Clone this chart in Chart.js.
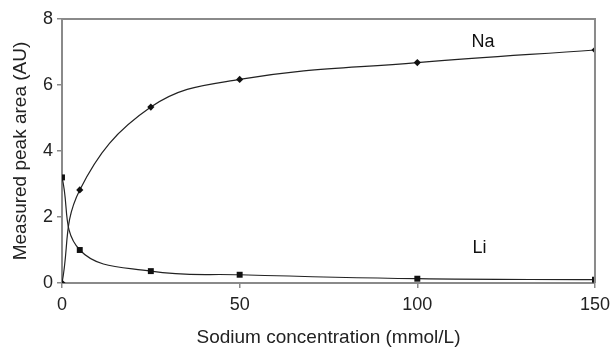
<!DOCTYPE html>
<html>
<head>
<meta charset="utf-8">
<script src="https://cdn.jsdelivr.net/npm/chart.js@4"></script>
<style>
    html, body { margin: 0; padding: 0; background: #fff; }
    #wrap { width: 616px; height: 349px; }
</style>
</head>
<body>
<div id="wrap"><canvas id="peakChart" width="616" height="349"></canvas></div>
<script>
// sodium concentration (mmol/L)
const concentrations = [0, 5, 25, 50, 100, 150];
const naValues = [0, 2.82, 5.33, 6.17, 6.68, 7.06];
const liValues = [3.2, 1.0, 0.36, 0.25, 0.13, 0.1];
const xTicks = [0, 50, 100, 150];
const yTicks = [0, 2, 4, 6, 8];
const seriesLabels = [
    { text: "Na", x: 118.5, y: 7.3 },
    { text: "Li", x: 117.5, y: 1.05 }
];

const fontFamily = "'Liberation Sans', Arial, sans-serif";

function ToPoints(xs, ys) {
    return xs.map(function (x, i) { return { x: x, y: ys[i] }; });
}

const frameAndLabels = {
    id: "frameAndLabels",
    afterDraw: function (chart) {
        const ctx = chart.ctx;
        const area = chart.chartArea;
        ctx.save();
        ctx.strokeStyle = "#8a8a8a";
        ctx.lineWidth = 2;
        ctx.beginPath();
        ctx.moveTo(area.left, area.top);
        ctx.lineTo(area.right, area.top);
        ctx.lineTo(area.right, area.bottom);
        ctx.stroke();

        ctx.fillStyle = "#111";
        ctx.font = "18px " + fontFamily;
        ctx.textAlign = "center";
        ctx.textBaseline = "middle";
        seriesLabels.forEach(function (l) {
            ctx.fillText(l.text, chart.scales.x.getPixelForValue(l.x), chart.scales.y.getPixelForValue(l.y));
        });
        ctx.restore();
    }
};

const ctx = document.getElementById("peakChart").getContext("2d");
new Chart(ctx, {
    type: "line",
    data: {
        datasets: [{
            label: "Na",
            data: ToPoints(concentrations, naValues),
            borderColor: "#222",
            borderWidth: 1.2,
            backgroundColor: "#111",
            pointStyle: "rectRot",
            pointRadius: 3.6,
            pointBorderWidth: 0,
            tension: 0.4,
            fill: false
        }, {
            label: "Li",
            data: ToPoints(concentrations, liValues),
            borderColor: "#222",
            borderWidth: 1.2,
            backgroundColor: "#111",
            pointStyle: "rect",
            pointRadius: 4.2,
            pointBorderWidth: 0,
            tension: 0.4,
            fill: false
        }]
    },
    options: {
        responsive: false,
        animation: false,
        layout: { padding: { left: 0, right: 13, top: 19, bottom: 0 } },
        plugins: {
            legend: { display: false },
            tooltip: { enabled: false }
        },
        scales: {
            x: {
                type: "linear",
                min: 0,
                max: 150,
                afterBuildTicks: function (axis) { axis.ticks = xTicks.map(function (v) { return { value: v }; }); },
                afterFit: function (axis) { axis.height = 66; },
                grid: { drawOnChartArea: false, tickLength: 5, color: "#8a8a8a", lineWidth: 1.5 },
                border: { color: "#8a8a8a", width: 2 },
                ticks: { color: "#222", padding: 6, font: { size: 18, family: fontFamily } },
                title: { display: true, text: "Sodium concentration (mmol/L)", color: "#222", padding: { top: 0, bottom: 0 }, font: { size: 19, family: fontFamily } }
            },
            y: {
                min: 0,
                max: 8,
                afterBuildTicks: function (axis) { axis.ticks = yTicks.map(function (v) { return { value: v }; }); },
                afterFit: function (axis) { axis.width = 62; },
                grid: { drawOnChartArea: false, tickLength: 5, color: "#8a8a8a", lineWidth: 1.5 },
                border: { color: "#8a8a8a", width: 2 },
                ticks: { color: "#222", padding: 4, font: { size: 18, family: fontFamily } },
                title: { display: true, text: "Measured peak area (AU)", color: "#222", padding: { top: 9, bottom: 0 }, font: { size: 19, family: fontFamily } }
            }
        }
    },
    plugins: [frameAndLabels]
});
</script>
</body>
</html>
